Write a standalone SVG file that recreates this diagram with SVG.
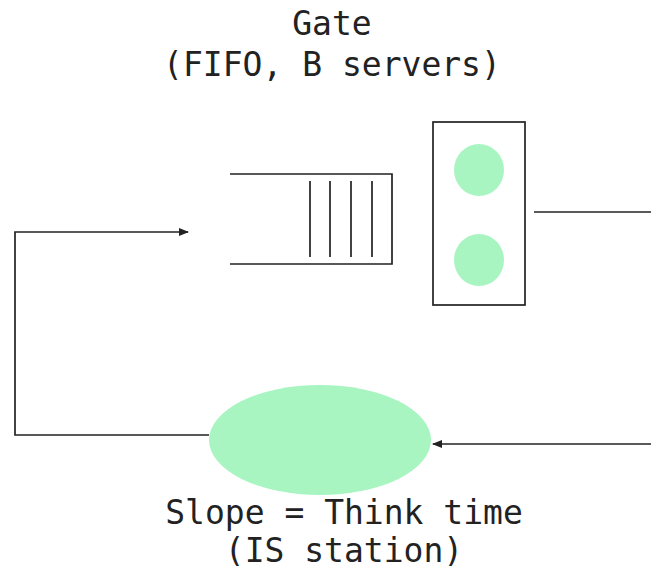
<svg xmlns="http://www.w3.org/2000/svg" width="651" height="571" viewBox="0 0 651 571">
<style>
.t{font-family:"DejaVu Sans Mono","Liberation Mono",monospace;font-size:33px;fill:#222;text-anchor:middle}
.s{stroke:#222;stroke-width:1.7;fill:none}
.g{fill:#a8f5c2}
</style>
<defs>
<marker id="ah" markerWidth="10" markerHeight="10" refX="9" refY="5" orient="auto" markerUnits="userSpaceOnUse">
<path d="M0,1 L10,5 L0,9 z" fill="#222"/>
</marker>
</defs>
<rect width="651" height="571" fill="#fff"/>
<g id="gate-label">
<text class="t" x="332" y="35">Gate</text>
<text class="t" x="332" y="76">(FIFO, B servers)</text>
</g>
<g id="queue">
<path class="s" d="M230,174 H392 V264 H230"/>
<path class="s" d="M310,181 V257 M330,181 V257 M351,181 V257 M372,181 V257"/>
</g>
<g id="servers">
<rect class="s" x="433" y="122" width="92" height="183"/>
<ellipse class="g" cx="479" cy="170" rx="25" ry="26"/>
<ellipse class="g" cx="479" cy="260" rx="25" ry="26"/>
</g>
<g id="is-station">
<ellipse class="g" cx="320" cy="440" rx="111" ry="55"/>
<text class="t" x="344" y="524">Slope = Think time</text>
<text class="t" x="344" y="562">(IS station)</text>
</g>
<g id="connectors">
<path class="s" d="M534,212 H651"/>
<path class="s" d="M209,435 H15 V232 H188" marker-end="url(#ah)"/>
<path class="s" d="M651,444 H433" marker-end="url(#ah)"/>
</g>
</svg>
